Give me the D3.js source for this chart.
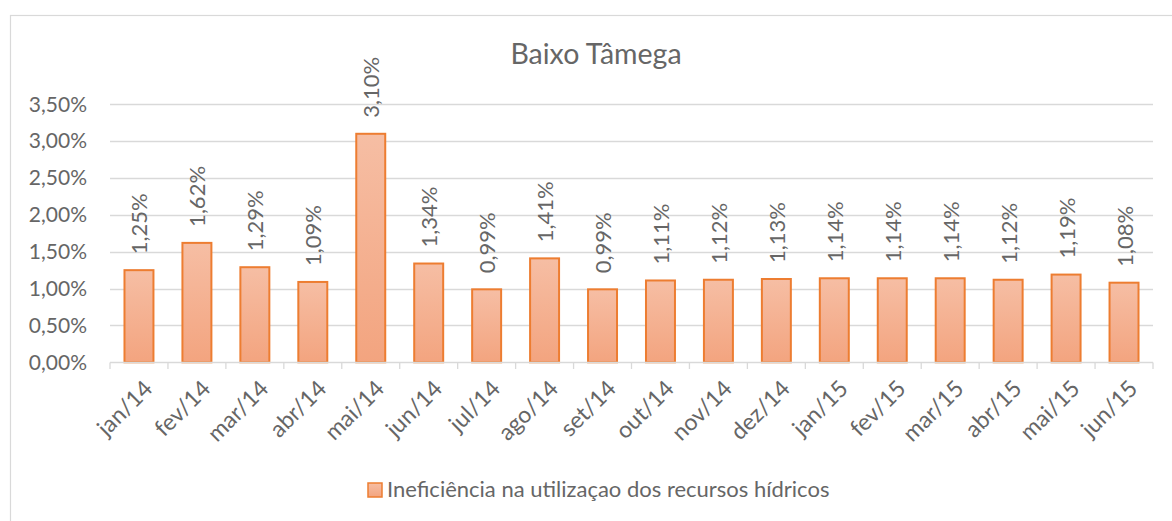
<!DOCTYPE html>
<html>
<head>
<meta charset="utf-8">
<script src="https://cdn.jsdelivr.net/npm/d3@7"></script>
<style>
  html, body { margin: 0; padding: 0; background: #fff; }
  svg text { font-family: Lato, "Open Sans", sans-serif; fill: #666666; }
</style>
</head>
<body>
<svg id="chart" width="1172" height="521"></svg>
<script>
const categories = ["jan/14","fev/14","mar/14","abr/14","mai/14","jun/14","jul/14","ago/14","set/14","out/14","nov/14","dez/14","jan/15","fev/15","mar/15","abr/15","mai/15","jun/15"];
const values = [1.25,1.62,1.29,1.09,3.10,1.34,0.99,1.41,0.99,1.11,1.12,1.13,1.14,1.14,1.14,1.12,1.19,1.08];
const yTicks = [0,0.5,1,1.5,2,2.5,3,3.5];
const title = "Baixo Tâmega";
const seriesName = "Ineficiência na utilizaçao dos recursos hídricos";

const fmt = v => v.toFixed(2).replace(".", ",") + "%";

const svg = d3.select("#chart");

const defs = svg.append("defs");
const grad = defs.append("linearGradient").attr("id","barGrad")
  .attr("x1","0").attr("y1","0").attr("x2","0").attr("y2","1");
grad.append("stop").attr("offset","0%").attr("stop-color","#F6BEA4");
grad.append("stop").attr("offset","100%").attr("stop-color","#F3A47F");

// chart border
svg.append("rect").attr("x",10.5).attr("y",15.5).attr("width",1200).attr("height",600)
  .attr("fill","none").attr("stroke","#D9D9D9").attr("stroke-width",1.2);

const x = d3.scaleBand().domain(categories).range([110, 1153]).paddingInner(0.5).paddingOuter(0.25);
const y = d3.scaleLinear().domain([0, 3.5]).range([362.3, 104.3]);

// gridlines
svg.append("g").selectAll("line").data(yTicks.filter(d => d > 0)).join("line")
  .attr("x1",110).attr("x2",1153)
  .attr("y1",d => Math.round(y(d)) + 0.5).attr("y2",d => Math.round(y(d)) + 0.5)
  .attr("stroke","#D9D9D9").attr("stroke-width",1.3);

// y axis labels
const yAxis = d3.axisLeft(y).tickValues(yTicks).tickFormat(fmt).tickSize(0).tickPadding(0);
const yg = svg.append("g").attr("transform","translate(87,0)").call(yAxis);
yg.select(".domain").remove();
yg.selectAll("text").attr("font-size",21).attr("fill","#666666").style("font-family","Lato");

// bars
svg.append("g").selectAll("rect").data(values).join("rect")
  .attr("x",(d,i) => x(categories[i]))
  .attr("y",d => y(d))
  .attr("width",x.bandwidth())
  .attr("height",d => y(0) - y(d))
  .attr("fill","url(#barGrad)")
  .attr("stroke","#ED7D31").attr("stroke-width",2);

// x axis
const step = x.step();
const boundaries = d3.range(categories.length + 1).map(i => 110 + i * step);
const xg = svg.append("g");
xg.append("line").attr("x1",110).attr("x2",1153).attr("y1",362.5).attr("y2",362.5)
  .attr("stroke","#D9D9D9").attr("stroke-width",1.3);
xg.selectAll("line.tick").data(boundaries).join("line").attr("class","tick")
  .attr("x1",d => d).attr("x2",d => d).attr("y1",362.5).attr("y2",369)
  .attr("stroke","#D9D9D9").attr("stroke-width",1.3);

const xAxis = d3.axisBottom(x).tickSize(0).tickPadding(0);
const xag = svg.append("g").attr("transform","translate(0,362)").call(xAxis);
xag.select(".domain").remove();
xag.selectAll("text")
  .attr("font-size",23).attr("fill","#666666").style("font-family","Lato")
  .attr("text-anchor","end")
  .attr("dy",null).attr("y",null)
  .attr("transform","translate(2,15) rotate(-45)")
  .attr("dominant-baseline","hanging");

// data labels
svg.append("g").selectAll("text").data(values).join("text")
  .attr("transform",(d,i) => `translate(${x(categories[i]) + x.bandwidth()/2},${y(d) - 16}) rotate(-90)`)
  .attr("text-anchor","start")
  .attr("dominant-baseline","central")
  .attr("font-size",22)
  .text(d => fmt(d));

// title
svg.append("text").attr("x",596).attr("y",64).attr("text-anchor","middle")
  .attr("font-size",28.5).text(title);

// legend
svg.append("rect").attr("x",368).attr("y",483).attr("width",14).attr("height",14)
  .attr("fill","url(#barGrad)").attr("stroke","#ED7D31").attr("stroke-width",1.5);
svg.append("text").attr("x",387).attr("y",497).attr("font-size",22).text(seriesName);
</script>
</body>
</html>
